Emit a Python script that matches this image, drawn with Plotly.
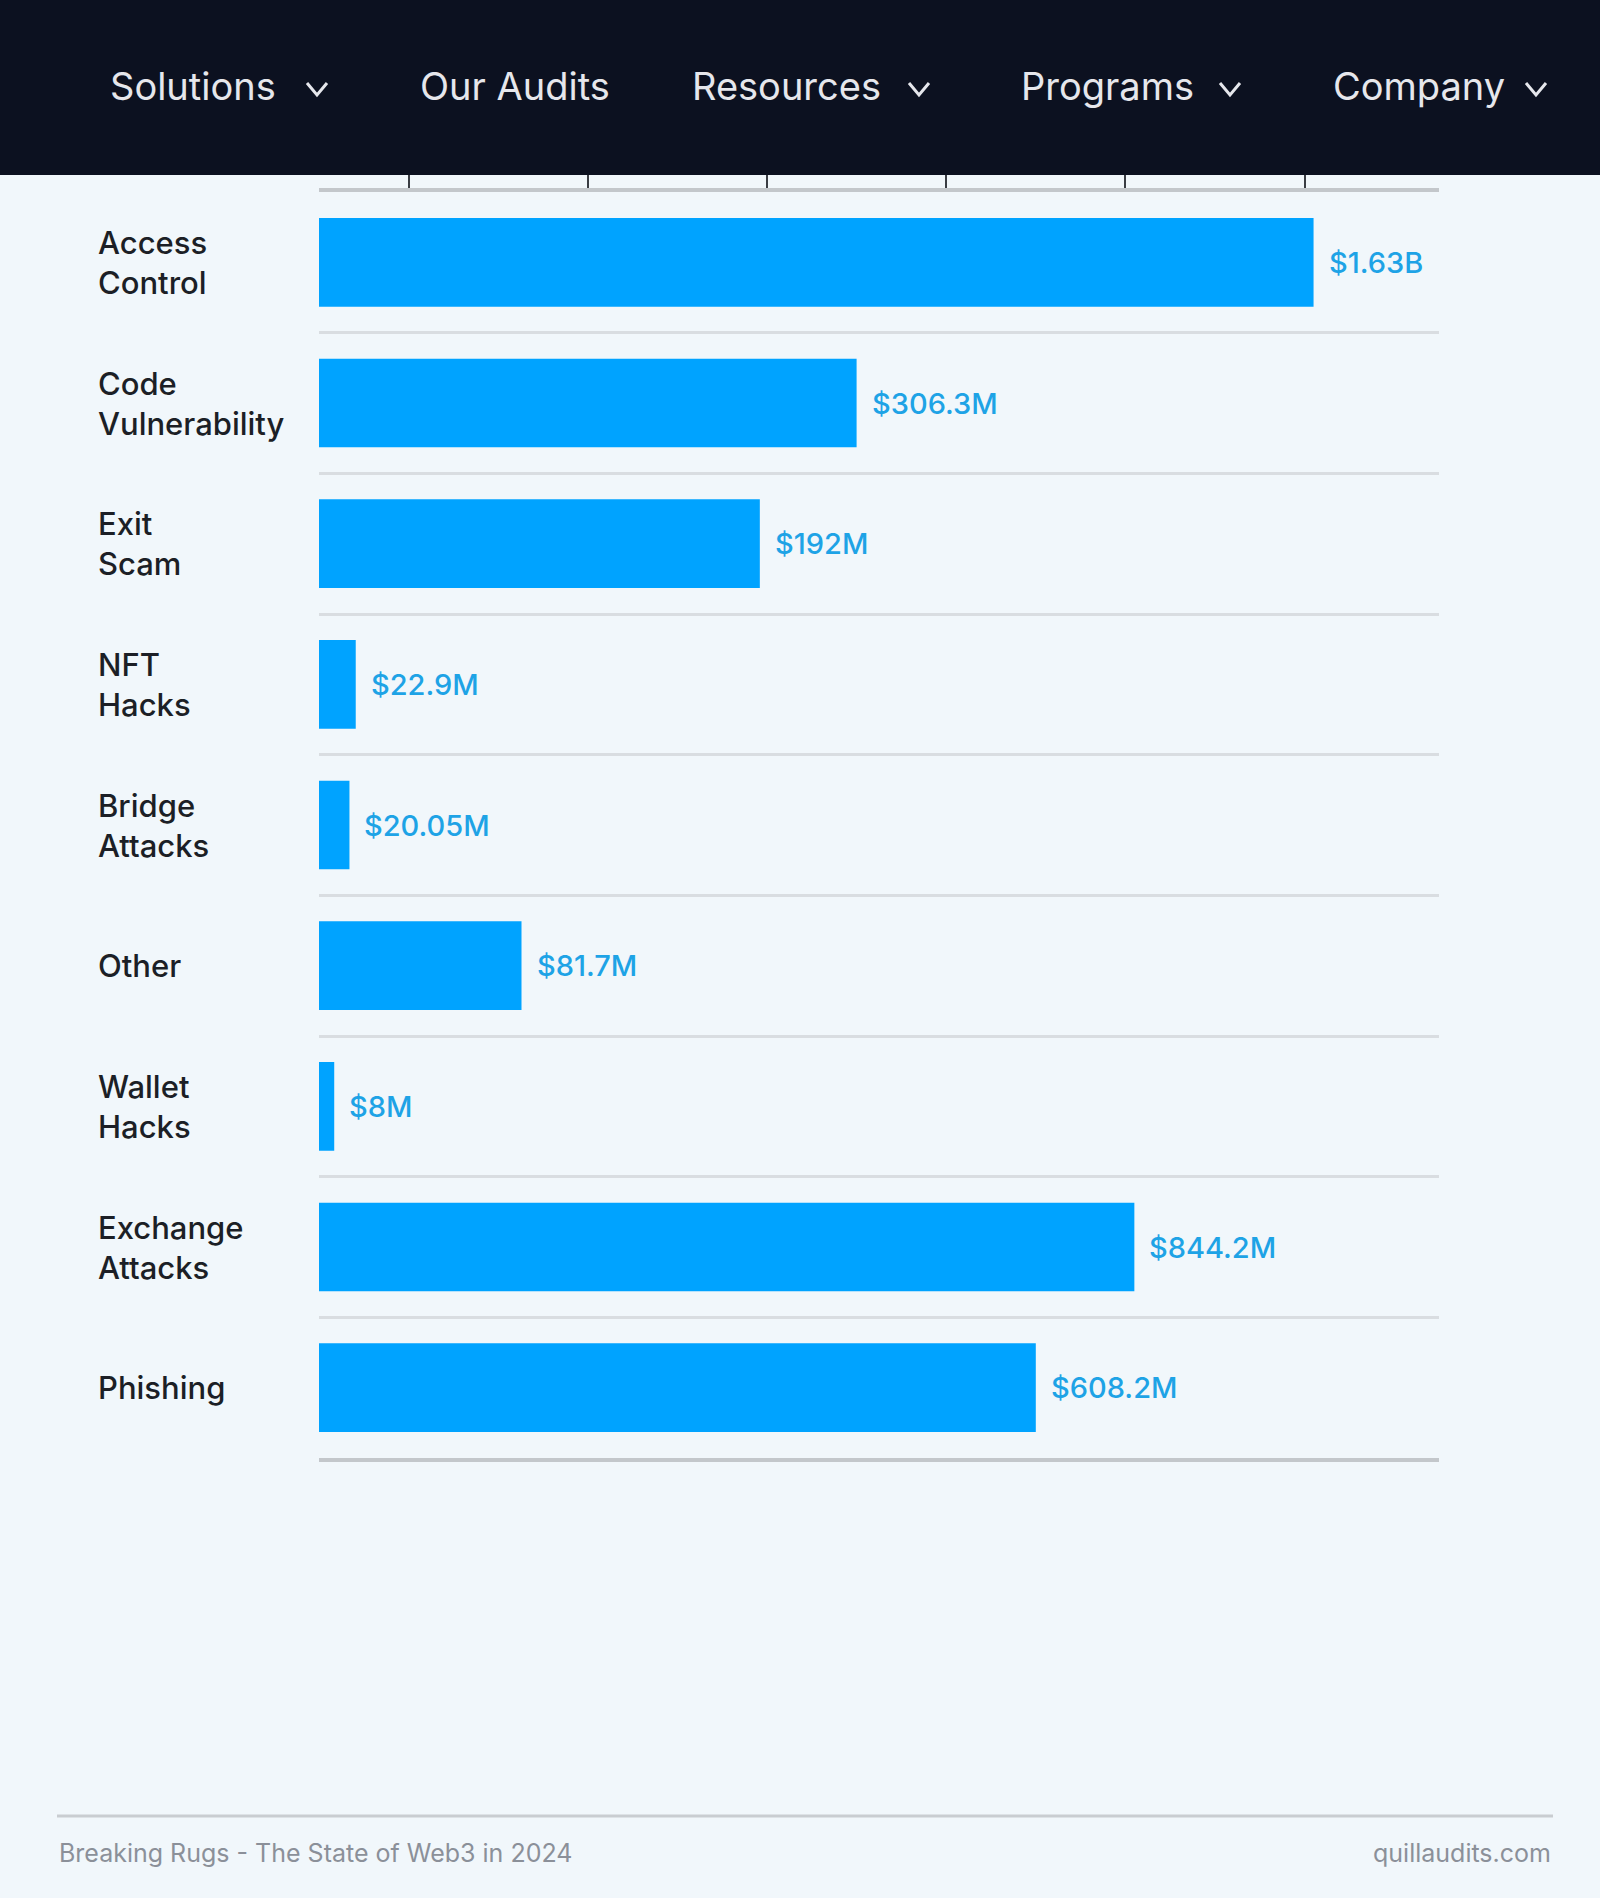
import plotly.graph_objects as go

# ---------------- data ----------------
categories = ["Access Control", "Code Vulnerability", "Exit Scam", "NFT Hacks",
              "Bridge Attacks", "Other", "Wallet Hacks", "Exchange Attacks", "Phishing"]
# bar lengths as drawn (in axis units, one unit = one tick interval)
bar_lengths = [5.55, 3.00, 2.46, 0.205, 0.17, 1.13, 0.085, 4.55, 4.00]
value_labels = ["$1.63B", "$306.3M", "$192M", "$22.9M", "$20.05M",
                "$81.7M", "$8M", "$844.2M", "$608.2M"]
tick_positions = [0.5, 1.5, 2.5, 3.5, 4.5, 5.5]
nav_items = ["Solutions", "Our Audits", "Resources", "Programs", "Company"]
nav_has_menu = [True, False, True, True, True]
footer_left = "Breaking Rugs - The State of Web3 in 2024"
footer_right = "quillaudits.com"

# ---------------- layout helpers ----------------
W, H = 1600, 1898
FONT = "Inter, 'Noto Sans', sans-serif"
BG = "#f1f7fb"
NAV_BG = "#0c1120"
BAR = "#00a3ff"
LABEL_BLUE = "#1ea3e6"


def px(x):
    return x / W


def py(y):
    return 1 - y / H


fig = go.Figure()
fig.add_trace(go.Bar(
    y=categories,
    x=bar_lengths,
    orientation="h",
    marker=dict(color=BAR, line=dict(width=0)),
    hoverinfo="skip",
))

annotations = []
# category labels (left aligned)
for name in categories:
    annotations.append(dict(
        x=px(96), xref="paper", xanchor="left",
        y=name, yref="y", yanchor="middle",
        text=name.replace(" ", "<br>"), align="left", showarrow=False,
        font=dict(family=FONT, size=31, color="#1c1f26", weight=500),
    ))
# value labels
for name, v, lab in zip(categories, bar_lengths, value_labels):
    annotations.append(dict(
        x=v, xref="x", xanchor="left", xshift=13,
        y=name, yref="y", yanchor="middle",
        text=lab, showarrow=False,
        font=dict(family=FONT, size=29, color=LABEL_BLUE, weight=500),
    ))

# nav bar text
nav_x = [108, 418, 690, 1019, 1331]
for t, x in zip(nav_items, nav_x):
    annotations.append(dict(
        x=px(x), xref="paper", xanchor="left",
        y=py(86), yref="paper", yanchor="middle",
        text=t, showarrow=False,
        font=dict(family=FONT, size=38, color="#e6e7ec"),
    ))

# footer
annotations.append(dict(
    x=px(57), xref="paper", xanchor="left", y=py(1853), yref="paper", yanchor="middle",
    text=footer_left, showarrow=False, font=dict(family=FONT, size=25, color="#8b9099")))
annotations.append(dict(
    x=px(1553), xref="paper", xanchor="right", y=py(1853), yref="paper", yanchor="middle",
    text=footer_right, showarrow=False, font=dict(family=FONT, size=25, color="#8b9099")))

shapes = [
    dict(type="rect", xref="paper", yref="paper", x0=0, x1=1, y0=py(175), y1=1.01,
         fillcolor=NAV_BG, line=dict(width=0), layer="above"),
    dict(type="line", xref="paper", yref="paper", x0=px(57), x1=px(1553),
         y0=py(1816), y1=py(1816), line=dict(color="#c9cdd1", width=3)),
]
chev_x = [317, None, 919, 1230, 1536]
for has, cx in zip(nav_has_menu, chev_x):
    if not has:
        continue
    path = "M {},{} L {},{} L {},{}".format(
        px(cx - 10), py(83), px(cx), py(95), px(cx + 10), py(83))
    shapes.append(dict(type="path", xref="paper", yref="paper", path=path,
                       line=dict(color="#e6e7ec", width=3), layer="above"))

fig.update_layout(
    width=W, height=H,
    margin=dict(l=0, r=0, t=0, b=0),
    paper_bgcolor=BG, plot_bgcolor=BG,
    showlegend=False,
    bargap=0.37,
    annotations=annotations,
    shapes=shapes,
    xaxis=dict(
        domain=[px(319), px(1439)],
        range=[0, 6.25],
        side="top",
        showgrid=False, zeroline=False,
        showline=True, linecolor="#c3c7cb", linewidth=4, mirror=True,
        ticks="outside", ticklen=30, tickwidth=2, tickcolor="#3a3d44",
        tickvals=tick_positions, showticklabels=False,
        fixedrange=True,
    ),
    yaxis=dict(
        domain=[py(1458), py(192)],
        type="category",
        categoryorder="array", categoryarray=categories,
        autorange="reversed",
        tickson="boundaries",
        showgrid=True, gridcolor="#d9dde1", gridwidth=3,
        showticklabels=False, ticks="",
        zeroline=False, showline=False,
        fixedrange=True,
    ),
)

fig.write_html(
    "out.html",
    config={"displayModeBar": False},
    post_script="document.body.style.margin='0';document.body.style.background='%s';" % BG,
)
